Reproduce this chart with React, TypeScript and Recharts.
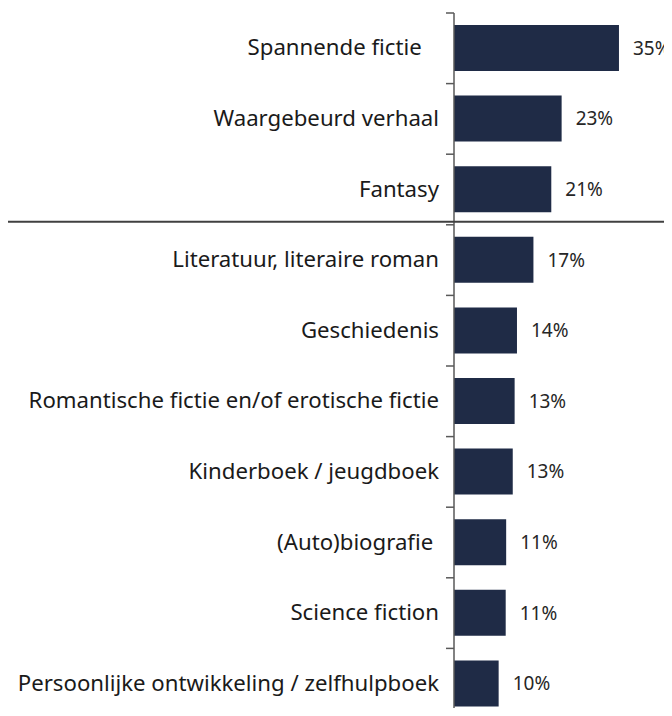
import React from 'react';
import { BarChart, Bar, XAxis, YAxis, LabelList } from 'recharts';

const categories = [
  'Spannende fictie   ',
  'Waargebeurd verhaal',
  'Fantasy',
  'Literatuur, literaire roman',
  'Geschiedenis',
  'Romantische fictie en/of erotische fictie',
  'Kinderboek / jeugdboek',
  '(Auto)biografie ',
  'Science fiction',
  'Persoonlijke ontwikkeling / zelfhulpboek',
];
const values = [35.1, 22.9, 20.7, 16.9, 13.4, 12.9, 12.5, 11.1, 11.0, 9.5];
const valueLabels = ['35%', '23%', '21%', '17%', '14%', '13%', '13%', '11%', '11%', '10%'];
const separatorBeforeIndex = 3;

const data = categories.map((c, i) => ({ name: c, value: values[i], label: valueLabels[i] }));

const FONT = '"Noto Sans", "Open Sans", sans-serif';
const WIDTH = 672;

const CategoryTick = (props: any) => {
  const { x, y, payload, index } = props;
  const half = payload && payload.offset ? payload.offset : 35.3;
  const top = y - half;
  return (
    <g>
      <line x1={x} x2={x + 8} y1={top} y2={top} stroke="#595959" strokeWidth={1.5} />
      {index === separatorBeforeIndex && (
        <line x1={0} x2={WIDTH} y1={top - 3} y2={top - 3} stroke="#404040" strokeWidth={2} />
      )}
      <text
        x={x - 7}
        y={y}
        dy={7}
        textAnchor="end"
        fontFamily={FONT}
        fontSize={22.2}
        fill="#1a1a1a"
        style={{ whiteSpace: 'pre', fontVariantLigatures: 'none' }}
      >
        {payload.value}
      </text>
    </g>
  );
};

export default function App() {
  return (
    <div style={{ margin: -8, width: WIDTH, height: 716, overflow: 'hidden', background: '#fff' }}>
      <BarChart
        width={WIDTH}
        height={730}
        data={data}
        layout="vertical"
        margin={{ top: 13, right: 30, bottom: 11, left: 0 }}
      >
        <XAxis type="number" domain={[0, 40]} hide />
        <YAxis
          type="category"
          dataKey="name"
          width={454}
          axisLine={{ stroke: '#595959', strokeWidth: 1.5 }}
          tickLine={false}
          tick={<CategoryTick />}
          interval={0}
        />
        <Bar dataKey="value" fill="#1f2b46" barSize={46} isAnimationActive={false}>
          <LabelList
            dataKey="label"
            position="right"
            offset={14}
            fill="#262626"
            fontFamily={FONT}
            fontSize={19}
          />
        </Bar>
      </BarChart>
    </div>
  );
}
